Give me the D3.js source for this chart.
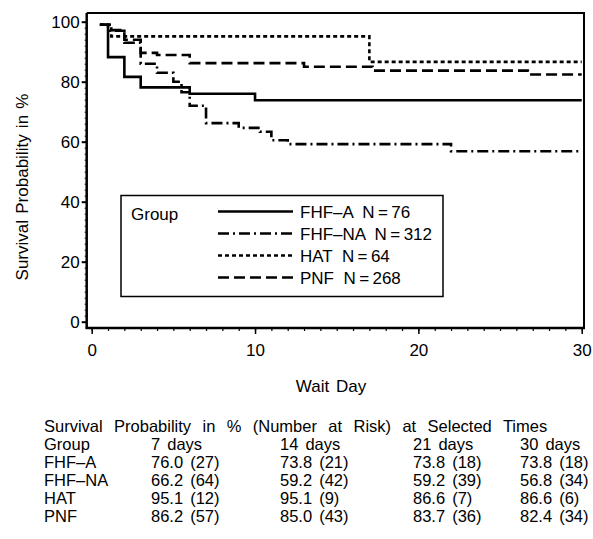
<!DOCTYPE html>
<html><head><meta charset="utf-8">
<script src="https://cdn.jsdelivr.net/npm/d3@7"></script>
<style>
body{margin:0;background:#fff;}
text{font-family:"Liberation Sans",Arial,Helvetica,sans-serif;fill:#000;}
</style></head>
<body>
<svg id="chart" width="593" height="539"></svg>
<script>
// ---- data ----
const groups = ["FHF-A", "FHF-NA", "HAT", "PNF"];
const legendLabels = ["FHF\u2013A  N\u2009=\u200976", "FHF\u2013NA  N\u2009=\u2009312", "HAT  N\u2009=\u200964", "PNF  N\u2009=\u2009268"];
const fhfaDays = [0.5, 1, 2, 3, 6, 10, 30];
const fhfaSurv = [99, 88.2, 81.6, 78.1, 76.0, 73.8, 73.8];
const fhfnaDays = [0.5, 1, 2, 3, 4, 5, 5.5, 6, 7, 9, 10.3, 11, 12, 22, 30];
const fhfnaSurv = [99, 97, 93, 86, 83, 80, 76.5, 72, 66.2, 64.6, 63.3, 60.5, 59.2, 56.8, 56.8];
const hatDays = [0.5, 1.2, 17, 30];
const hatSurv = [99, 95.1, 86.6, 86.6];
const pnfDays = [0.5, 1.2, 2, 3, 4, 6, 13, 17.2, 26.7, 30];
const pnfSurv = [99, 97.2, 94, 89.6, 88.9, 86.2, 85.0, 83.7, 82.4, 82.4];
const dashStyles = ["none", "11,4,2,4", "4,3", "11,5"];
const yTicks = [0, 20, 40, 60, 80, 100];
const xTicks = [0, 10, 20, 30];
const tableTitle = "Survival Probability in % (Number at Risk) at Selected Times";
const tableHeader = ["Group", "7 days", "14 days", "21 days", "30 days"];
const tableGroups = ["FHF\u2013A", "FHF\u2013NA", "HAT", "PNF"];
const table7 = ["76.0 (27)", "66.2 (64)", "95.1 (12)", "86.2 (57)"];
const table14 = ["73.8 (21)", "59.2 (42)", "95.1 (9)", "85.0 (43)"];
const table21 = ["73.8 (18)", "59.2 (39)", "86.6 (7)", "83.7 (36)"];
const table30 = ["73.8 (18)", "56.8 (34)", "86.6 (6)", "82.4 (34)"];

const seriesDays = [fhfaDays, fhfnaDays, hatDays, pnfDays];
const seriesSurv = [fhfaSurv, fhfnaSurv, hatSurv, pnfSurv];

// ---- layout ----
const FS = 17;
const TFS = 16.5;
const svg = d3.select("#chart");
const x = d3.scaleLinear().domain([0, 30]).range([91.7, 581.7]);
const y = d3.scaleLinear().domain([0, 100]).range([321.7, 21.7]);
const frameL = 86.7, frameR = 584, frameT = 13, frameB = 328;

// frame (top & right)
svg.append("path")
  .attr("d", `M${frameL},${frameT}H${frameR}V${frameB}`)
  .attr("fill", "none").attr("stroke", "#000").attr("stroke-width", 2);

// y axis
const yAxis = svg.append("g").attr("transform", `translate(${frameL},0)`)
  .call(d3.axisLeft(y).tickValues(yTicks).tickSize(5).tickPadding(2).tickSizeOuter(0));
yAxis.select(".domain").remove();
yAxis.selectAll("line").attr("stroke-width", 2);
yAxis.selectAll("text").attr("font-size", FS).style("font-family", "Liberation Sans, Arial, sans-serif");
svg.append("g").attr("transform", `translate(${frameL},0)`)
  .call(d3.axisLeft(y).tickValues(d3.range(0, 101, 2)).tickSize(2).tickFormat(""))
  .call(g => g.select(".domain").remove());
svg.append("line").attr("x1", frameL).attr("x2", frameL).attr("y1", frameT).attr("y2", frameB + 1)
  .attr("stroke", "#000").attr("stroke-width", 2.5);

// x axis
const xAxis = svg.append("g").attr("transform", `translate(0,${frameB})`)
  .call(d3.axisBottom(x).tickValues(xTicks).tickSize(6).tickPadding(10).tickSizeOuter(0));
xAxis.select(".domain").remove();
xAxis.selectAll("line").attr("stroke-width", 1.5);
xAxis.selectAll("text").attr("font-size", FS).style("font-family", "Liberation Sans, Arial, sans-serif");
svg.append("g").attr("transform", `translate(0,${frameB})`)
  .call(d3.axisBottom(x).tickValues(d3.range(0, 31, 1)).tickSize(3).tickFormat(""))
  .call(g => g.select(".domain").remove())
  .selectAll("line").attr("stroke-width", 1.2);
svg.append("line").attr("x1", frameL - 1).attr("x2", frameR + 1).attr("y1", frameB).attr("y2", frameB)
  .attr("stroke", "#000").attr("stroke-width", 2.5);

// axis titles
svg.append("text").attr("transform", "translate(28,187) rotate(-90)")
  .attr("text-anchor", "middle").attr("font-size", FS).style("word-spacing", "1.5px")
  .text("Survival Probability in %");
svg.append("text").attr("x", 331).attr("y", 392).attr("text-anchor", "middle")
  .attr("font-size", FS).style("word-spacing", "2px").text("Wait Day");

// curves
const line = d3.line().x(d => x(d[0])).y(d => y(d[1])).curve(d3.curveStepAfter);
groups.forEach((g, i) => {
  const pts = seriesDays[i].map((d, j) => [d, seriesSurv[i][j]]);
  svg.append("path").datum(pts).attr("d", line)
    .attr("fill", "none").attr("stroke", "#000").attr("stroke-width", 2.6)
    .attr("stroke-dasharray", dashStyles[i]);
});

// legend
const lg = svg.append("g");
lg.append("rect").attr("x", 121).attr("y", 195.5).attr("width", 322).attr("height", 101)
  .attr("fill", "#fff").attr("stroke", "#000").attr("stroke-width", 1.5);
lg.append("text").attr("x", 131).attr("y", 220).attr("font-size", FS).text("Group");
groups.forEach((g, i) => {
  const yy = 211.5 + i * 22;
  lg.append("line").attr("x1", 218).attr("x2", 293).attr("y1", yy).attr("y2", yy)
    .attr("stroke", "#000").attr("stroke-width", 2.6).attr("stroke-dasharray", dashStyles[i]);
  lg.append("text").attr("x", 300).attr("y", yy + 6.5).attr("font-size", FS)
    .style("white-space", "pre").text(legendLabels[i]);
});

// table
const tb = svg.append("g");
tb.append("text").attr("x", 44).attr("y", 432).attr("font-size", TFS)
  .style("word-spacing", "6.8px").text(tableTitle);
const colX = [44, 151, 280, 413, 520];
tableHeader.forEach((h, c) => {
  tb.append("text").attr("x", colX[c]).attr("y", 450).attr("font-size", TFS)
    .style("word-spacing", "2.5px").text(h);
});
const cols = [tableGroups, table7, table14, table21, table30];
tableGroups.forEach((g, r) => {
  cols.forEach((col, c) => {
    tb.append("text").attr("x", colX[c]).attr("y", 468 + r * 18).attr("font-size", TFS)
      .style("word-spacing", "2.5px").text(col[r]);
  });
});
</script>
</body></html>
